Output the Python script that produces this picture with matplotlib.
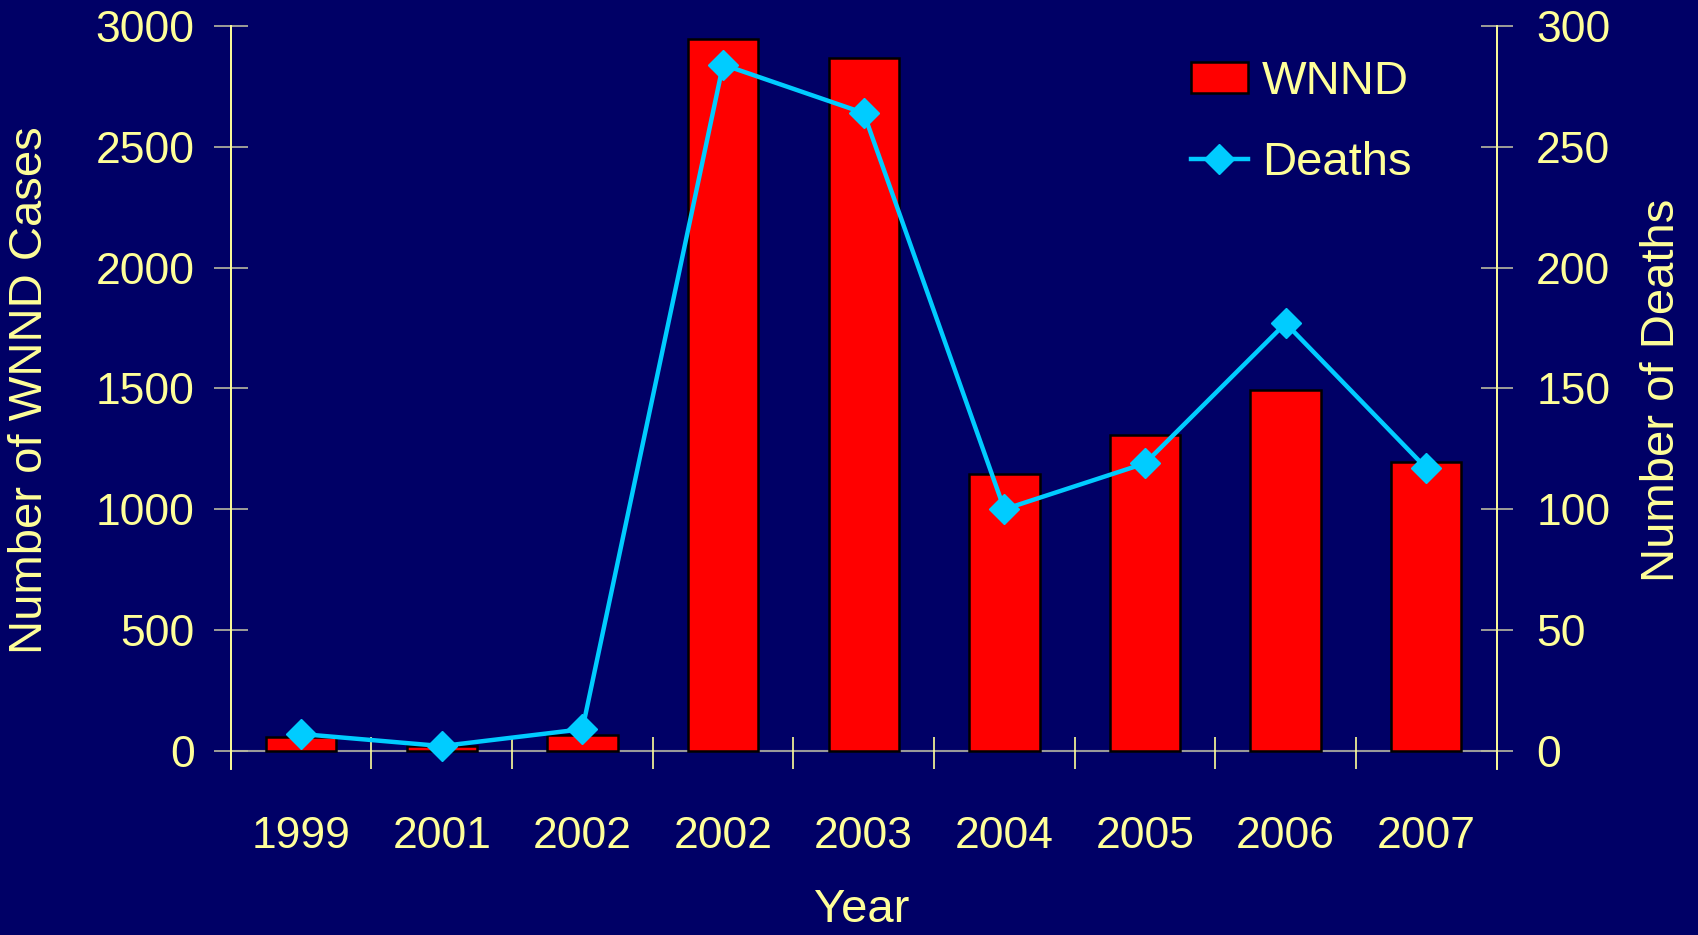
import numpy as np
import matplotlib.pyplot as plt

# data
years = ['1999', '2001', '2002', '2002', '2003', '2004', '2005', '2006', '2007']
wnnd_cases = [59, 19, 64, 2946, 2866, 1148, 1309, 1495, 1195]
deaths = [7, 2, 9, 284, 264, 100, 119, 177, 117]

BG = '#000066'
TXT = '#FFFF99'
LINE = '#00CCFF'
TICK = '#B8B8A0'

plt.rcParams['font.family'] = ['Liberation Sans', 'DejaVu Sans']

fig = plt.figure(figsize=(16.98, 9.35), dpi=100, facecolor=BG)
ax = fig.add_axes([0.1359, 0.1775, 0.8814 - 0.1359, 0.9722 - 0.1775])
ax.set_facecolor(BG)
x = np.arange(len(years))

bars = ax.bar(x, wnnd_cases, width=0.5, color='#FF0000', edgecolor='black',
              linewidth=1.8, zorder=2, label='WNND')
ax.axhline(0, color='#999999', lw=1.5, zorder=1)

ax.set_xlim(-0.5, len(years) - 0.5)
ax.set_ylim(-75, 3000)
ax.set_yticks(np.arange(0, 3001, 500))
ax.set_xticks(x)
ax.set_xticklabels(years)
ax.set_xticks(np.arange(0.5, len(years) - 1, 1), minor=True)
ax.tick_params(axis='x', which='major', length=0, pad=34, labelsize=32, labelcolor=TXT)
ax.tick_params(axis='x', which='minor', direction='in', length=23, width=1.2, color=TXT)
ax.tick_params(axis='y', direction='inout', length=24, width=1.2, color=TICK,
               labelsize=32, labelcolor=TXT, pad=14)

ax2 = ax.twinx()
ax2.set_ylim(-7.5, 300)
ax2.set_yticks(np.arange(0, 301, 50))
ln, = ax2.plot(x, deaths, color=LINE, lw=3.2, marker='D', markersize=15,
               label='Deaths', zorder=3)
ax2.tick_params(axis='y', direction='inout', length=23, width=1.2, color=TICK,
                labelsize=32, labelcolor=TXT, pad=17)

for a in (ax, ax2):
    a.spines['top'].set_visible(False)
    a.spines['bottom'].set_visible(False)
    a.spines['left'].set_color(TXT)
    a.spines['right'].set_color(TXT)
    a.spines['left'].set_linewidth(1.2)
    a.spines['right'].set_linewidth(1.2)

fig.text(0.0177, 0.583, 'Number of WNND Cases', rotation=90, ha='center', va='center',
         fontsize=34, color=TXT)
fig.text(0.9788, 0.583, 'Number of Deaths', rotation=90, ha='center', va='center',
         fontsize=34, color=TXT)
fig.text(0.5077, 0.014, 'Year', ha='center', va='baseline', fontsize=34, color=TXT)

leg = ax2.legend([bars, ln], ['WNND', 'Deaths'], loc='upper left',
                 bbox_to_anchor=(0.7014, 0.9358), bbox_transform=fig.transFigure,
                 frameon=False, fontsize=34, handlelength=1.2, handleheight=0.62,
                 handletextpad=0.3, labelspacing=0.78, borderpad=0, borderaxespad=0)
for t in leg.get_texts():
    t.set_color(TXT)

fig.savefig('out.png', dpi=100, facecolor=BG)
